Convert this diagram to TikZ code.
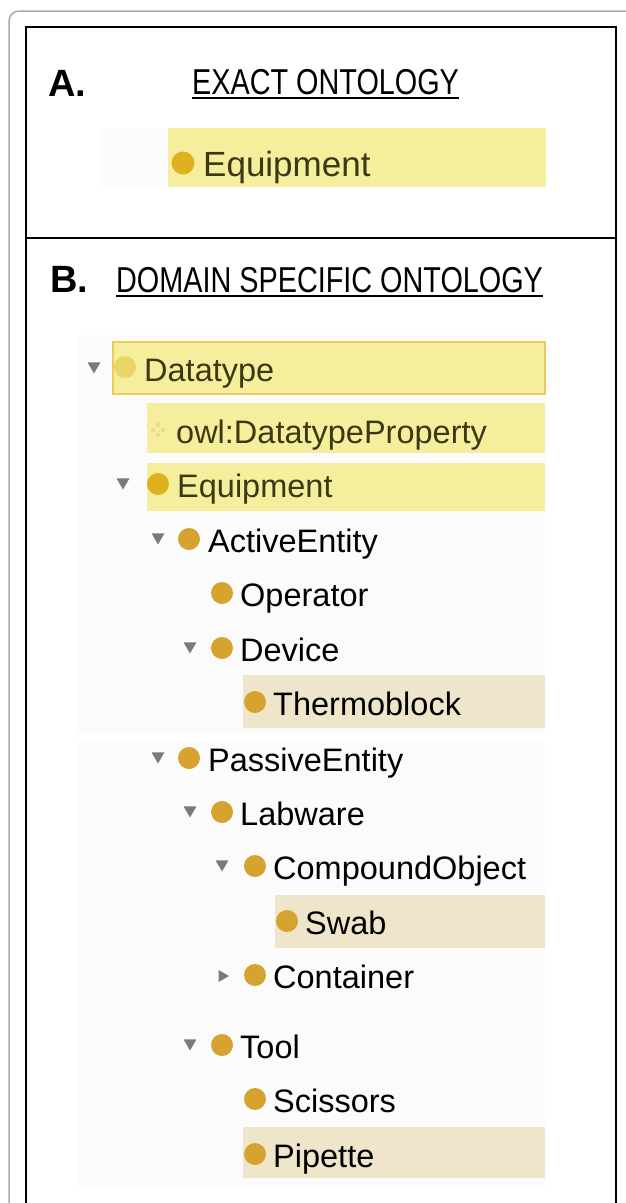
\documentclass[tikz,border=0pt]{standalone}
\usepackage{fontspec}
\setmainfont{Liberation Sans}
\newfontfamily\headfont[FakeStretch=0.8]{Liberation Sans}
\usetikzlibrary{shapes.geometric,calc}

\definecolor{hiyellow}{HTML}{F5EE9C}
\definecolor{hiborder}{HTML}{EFC95A}
\definecolor{hibeige}{HTML}{EEE5CB}
\definecolor{dotgold}{HTML}{D6A330}
\definecolor{dotyellow}{HTML}{DDB21E}
\definecolor{dotpale}{HTML}{EBD567}
\definecolor{iconpale}{HTML}{E9DC8E}
\definecolor{oliveink}{HTML}{3B3914}
\definecolor{arrowgrey}{HTML}{7A7A7A}
\definecolor{framegrey}{HTML}{A8A8A8}
\definecolor{panel}{HTML}{FBFBFB}

\tikzset{
  treetext/.style={anchor=base west, inner sep=0pt, font=\fontsize{32.5}{36}\selectfont},
  hltext/.style={treetext, text=oliveink},
  classdot/.style={circle, fill=dotgold, minimum size=22pt, inner sep=0pt},
  expander/.style={regular polygon, regular polygon sides=3, shape border rotate=180,
    fill=arrowgrey, minimum size=15pt, inner sep=0pt},
  collapsed/.style={expander, shape border rotate=-90, minimum size=14pt},
  headlabel/.style={anchor=base west, inner sep=0pt, font=\fontsize{38}{40}\selectfont\bfseries},
  headtitle/.style={anchor=base west, inner sep=0pt, font=\headfont\fontsize{36}{38}\selectfont},
  selrow/.style={fill=hiyellow},
  subrow/.style={fill=hibeige},
}

\begin{document}
\begin{tikzpicture}[x=1pt,y=-1pt]
\useasboundingbox (0,0) rectangle (626,1203);

% outer frame and the black panel border (both run past the lower edge)
\begin{scope}
  \clip (0,0) rectangle (626,1203);
  \draw[framegrey, line width=1.5pt, rounded corners=10pt] (9,11) rectangle (680,1260);
  \draw[black, line width=2.5pt] (26,1260) -- (26,27) -- (616,27) -- (616,1260);
\end{scope}
\draw[black, line width=2pt] (26,238) -- (616,238);

% faint tree panels
\fill[panel] (100,128) rectangle (168,187);
\fill[panel] (78,335) rectangle (545,733);
\fill[panel] (78,742) rectangle (545,1188);

% ---------------- section A ----------------
\node[headlabel] (labA) at (48,96) {A.};
\node[headtitle] (titleA) at (192,94) {EXACT ONTOLOGY};
\draw[line width=1.3pt] ($(titleA.base west)+(0,4)$) -- ($(titleA.base east)+(0,4)$);

\fill[selrow] (168,128) rectangle (546,187);
\node[classdot, fill=dotyellow, minimum size=23pt] (a-equip-dot) at (183,163) {};
\node[hltext, font=\fontsize{35}{38}\selectfont] (a-equip) at (203,176) {Equipment};

% ---------------- section B ----------------
\node[headlabel] (labB) at (50,292) {B.};
\node[headtitle] (titleB) at (116,292) {DOMAIN SPECIFIC ONTOLOGY};
\draw[line width=1.3pt] ($(titleB.base west)+(0,4)$) -- ($(titleB.base east)+(0,4)$);

% highlighted rows
\filldraw[fill=hiyellow, draw=hiborder, line width=1.5pt] (113,342) rectangle (545,394);
\fill[selrow] (147,403) rectangle (545,453);
\fill[selrow] (147,463) rectangle (545,511);
\fill[subrow] (243,675) rectangle (545,728);
\fill[subrow] (275,895) rectangle (545,948);
\fill[subrow] (243,1127) rectangle (545,1178);

% Datatype
\node[expander] (x-datatype) at (94,366) {};
\node[classdot, fill=dotpale] (d-datatype) at (125,367) {};
\node[hltext] (t-datatype) at (144,381) {Datatype};

% owl:DatatypeProperty
\foreach \dx/\dy in {0/-5, 0/5, -5/0, 5/0}
  \fill[iconpale] (158+\dx,430+\dy) circle (2.2pt);
\node[hltext] (t-owl) at (176,443) {owl:DatatypeProperty};

% Equipment
\node[expander] (x-equip) at (123,482) {};
\node[classdot, fill=dotyellow] (d-equip) at (158,484) {};
\node[hltext] (t-equip) at (177,497) {Equipment};

% ActiveEntity
\node[expander] (x-active) at (158,537) {};
\node[classdot] (d-active) at (189,539) {};
\node[treetext] (t-active) at (208,552) {ActiveEntity};

% Operator
\node[classdot] (d-operator) at (222,593) {};
\node[treetext] (t-operator) at (240,606) {Operator};

% Device
\node[expander] (x-device) at (190,646) {};
\node[classdot] (d-device) at (222,648) {};
\node[treetext] (t-device) at (240,661) {Device};

% Thermoblock
\node[classdot] (d-thermo) at (255,702) {};
\node[treetext] (t-thermo) at (273,715) {Thermoblock};

% PassiveEntity
\node[expander] (x-passive) at (158,756) {};
\node[classdot] (d-passive) at (189,758) {};
\node[treetext] (t-passive) at (208,771) {PassiveEntity};

% Labware
\node[expander] (x-labware) at (190,810) {};
\node[classdot] (d-labware) at (222,812) {};
\node[treetext] (t-labware) at (240,825) {Labware};

% CompoundObject
\node[expander] (x-compound) at (222,864) {};
\node[classdot] (d-compound) at (255,866) {};
\node[treetext] (t-compound) at (273,879) {CompoundObject};

% Swab
\node[classdot] (d-swab) at (287,921) {};
\node[treetext] (t-swab) at (305,934) {Swab};

% Container (collapsed)
\node[collapsed] (x-container) at (222,976) {};
\node[classdot] (d-container) at (255,975) {};
\node[treetext] (t-container) at (273,988) {Container};

% Tool
\node[expander] (x-tool) at (190,1043) {};
\node[classdot] (d-tool) at (222,1045) {};
\node[treetext] (t-tool) at (240,1058) {Tool};

% Scissors
\node[classdot] (d-scissors) at (255,1099) {};
\node[treetext] (t-scissors) at (273,1112) {Scissors};

% Pipette
\node[classdot] (d-pipette) at (255,1154) {};
\node[treetext] (t-pipette) at (273,1167) {Pipette};

\end{tikzpicture}
\end{document}
